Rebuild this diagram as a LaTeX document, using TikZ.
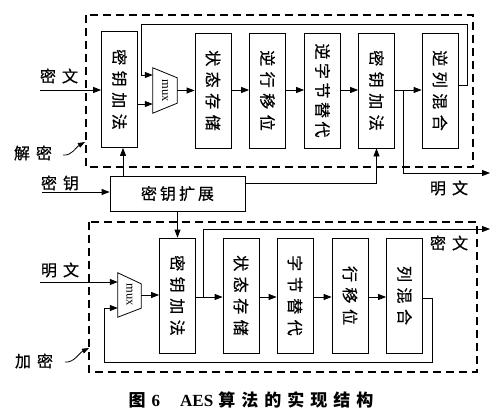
\documentclass[tikz,border=0pt]{standalone}
\usepackage{fontspec}
\usepackage{graphicx}
\setmainfont{Liberation Serif}
\newfontfamily\cjk{Noto Sans CJK SC}
\newfontfamily\cjkm[FakeBold=0.6]{Noto Sans CJK SC}
\usetikzlibrary{arrows.meta}
\newcommand\cg{\hspace{5.5pt}}
\newcommand\kg{\hspace{3.5pt}}
\newcommand\hg{\hspace{3pt}}
\newcommand\pg{\hspace{6pt}}
\begin{document}
\begin{tikzpicture}[x=1pt,y=-1pt,
  blk/.style={draw, line width=0.8pt, minimum width=36pt, minimum height=115pt, inner sep=0pt,
    font=\cjkm\fontsize{16}{16}\selectfont},
  muxbox/.style={draw=none, minimum width=24pt, minimum height=45pt, inner sep=0pt,
    font=\fontsize{12.5}{12.5}\selectfont},
  muxline/.style={line width=0.8pt},
  dbox/.style={draw, line width=2.6pt, dash pattern=on 8pt off 5pt},
  conn/.style={line width=0.8pt, -{Triangle[length=8pt,width=6pt]}},
  lbl/.style={font=\cjkm\fontsize{16}{16}\selectfont, inner sep=0pt},
  tag/.style={line width=0.8pt, -{Triangle[length=7pt,width=5pt]}}
]
\useasboundingbox (0,0) rectangle (503,417);
\fill[white] (0,0) rectangle (503,417);

% dashed frames
\draw[dbox] (86,15) rectangle (473,167);
\draw[dbox] (89,222) rectangle (477,372);

% top row (decryption)
\node[blk, minimum height=116pt] (a1) at (119.5,89.5) {\rotatebox{-90}{密\cg 钥\cg 加\cg 法}};
\node[muxbox] (mux1) at (165,90.5) {\rotatebox{-90}{mux}};
\draw[muxline] (mux1.north west) -- ([yshift=-10pt]mux1.north east) -- ([yshift=10pt]mux1.south east) -- (mux1.south west) -- cycle;
\node[blk] (s1) at (213,90.5) {\rotatebox{-90}{状\cg 态\cg 存\cg 储}};
\node[blk] (r1) at (267.5,90.5) {\rotatebox{-90}{逆\cg 行\cg 移\cg 位}};
\node[blk] (b1) at (322.5,90.5) {\rotatebox{-90}{逆\kg 字\kg 节\kg 替\kg 代}};
\node[blk] (a2) at (376.5,90.5) {\rotatebox{-90}{密\cg 钥\cg 加\cg 法}};
\node[blk] (m1) at (440,90.5) {\rotatebox{-90}{逆\cg 列\cg 混\cg 合}};

% key expansion
\node[draw, line width=0.8pt, minimum width=135pt, minimum height=35pt, inner sep=0pt,
  font=\cjkm\fontsize{16}{16}\selectfont] (ke) at (177.5,193.5) {密\hg 钥\hg 扩\hg 展};

% bottom row (encryption)
\node[muxbox, minimum width=23pt, minimum height=44pt] (mux2) at (129.5,295) {\rotatebox{-90}{mux}};
\draw[muxline] (mux2.north west) -- ([yshift=-11pt]mux2.north east) -- ([yshift=9pt]mux2.south east) -- (mux2.south west) -- cycle;
\node[blk] (a3) at (177.5,295.5) {\rotatebox{-90}{密\cg 钥\cg 加\cg 法}};
\node[blk] (s2) at (241,295.5) {\rotatebox{-90}{状\cg 态\cg 存\cg 储}};
\node[blk] (b2) at (295,295.5) {\rotatebox{-90}{字\cg 节\cg 替\cg 代}};
\node[blk] (r2) at (350,295.5) {\rotatebox{-90}{行\cg 移\cg 位}};
\node[blk] (m2) at (404.5,295.5) {\rotatebox{-90}{列\cg 混\cg 合}};

% labels
\node[lbl] (lct) at (59,76) {密\pg 文};
\node[lbl] (ldec) at (33,153) {解\pg 密};
\node[lbl] (lkey) at (60,183) {密\pg 钥};
\node[lbl] (lpt1) at (449,188) {明\pg 文};
\node[lbl] (lpt2) at (60,270) {明\pg 文};
\node[lbl] (lenc) at (34,361) {加\pg 密};
\node[lbl] (lct2) at (449,243) {密\pg 文};

% free ends
\coordinate (inct) at (40,90);
\coordinate (inkey) at (42,192);
\coordinate (inpt) at (40,282);
\coordinate (outpt) at (490,173);
\coordinate (outct) at (490,229);
\coordinate (kx) at (123,176);

% top connectors
\draw[conn] (inct) -- (inct -| a1.west);
\draw[conn] (a1.east |- 0,104) -- (mux1.west |- 0,104);
\draw[conn] (mux1.east) -- (mux1.east -| s1.west);
\draw[conn] (s1.east |- 0,90) -- (r1.west |- 0,90);
\draw[conn] (r1.east |- 0,90) -- (b1.west |- 0,90);
\draw[conn] (b1.east |- 0,90) -- (a2.west |- 0,90);
\draw[conn] (a2.east |- 0,90) -- (m1.west |- 0,90);
\draw[conn] (403,90) -- (403,173) -- (outpt);
\draw[conn] (m1.east |- 0,85) -- (467,85) -- (467,24) -- (141,24) -- (141,75) -- (mux1.west |- 0,75);

% key connectors
\draw[conn] (inkey) -- (inkey -| ke.west);
\draw[conn] (kx |- ke.north) -- (kx |- a1.south);
\draw[conn] (ke.east |- 0,183) -| (a2.south);
\draw[conn] (ke.south) -- (a3.north);

% bottom connectors
\draw[conn] (inpt) -- (inpt -| mux2.west);
\draw[conn] (mux2.east) -- (mux2.east -| a3.west);
\draw[conn] (a3.east |- 0,297) -- (s2.west |- 0,297);
\draw[conn] (203,297) -- (203,229) -- (outct);
\draw[conn] (s2.east |- 0,297) -- (b2.west |- 0,297);
\draw[conn] (b2.east |- 0,297) -- (r2.west |- 0,297);
\draw[conn] (r2.east |- 0,297) -- (m2.west |- 0,297);
\draw[conn] (m2.east |- 0,298) -- (432,298) -- (432,362) -- (104,362) -- (104,308) -- (mux2.west |- 0,308);

% mode tags
\draw[tag] (63,155) .. controls (72,156) and (76,147) .. (85,142);
\draw[tag] (65,362) .. controls (74,363) and (79,353) .. (89,348);

% caption
\node[inner sep=0pt, font=\bfseries\fontsize{17}{17}\selectfont] (cap) at (251,400)
  {{\cjk\bfseries 图}\hspace{6pt}6\hspace{20pt}AES\hspace{5pt}{\cjk\bfseries 算\hspace{6pt}法\hspace{6pt}的\hspace{6pt}实\hspace{6pt}现\hspace{6pt}结\hspace{6pt}构}};
\end{tikzpicture}
\end{document}
